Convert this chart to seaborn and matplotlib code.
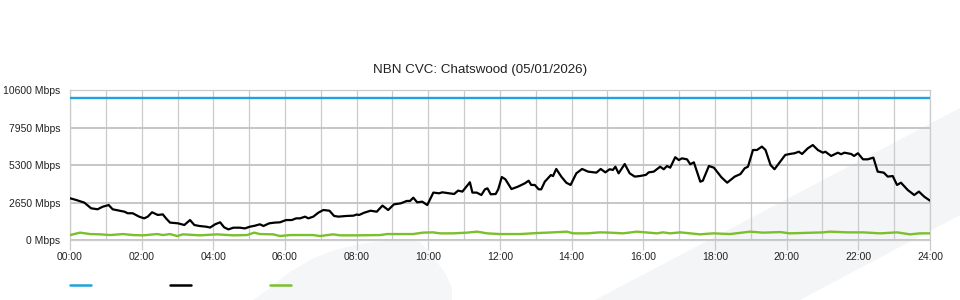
import numpy as np
import pandas as pd
import matplotlib
matplotlib.use("Agg")
import matplotlib.pyplot as plt
from matplotlib.lines import Line2D
from matplotlib.patches import Polygon
import seaborn as sns

# ---------------- data ----------------
title = "NBN CVC: Chatswood (05/01/2026)"

capacity_hours = [0, 24]
capacity_mbps = [10000, 10000]

download_hours = [
    0, 0.17, 0.40, 0.59, 0.77, 0.91, 1.08, 1.19, 1.38, 1.52,
    1.61, 1.75, 1.93, 2.07, 2.17, 2.29, 2.45, 2.59, 2.68, 2.79,
    3.01, 3.19, 3.35, 3.47, 3.61, 3.80, 3.91, 4.05, 4.19, 4.30,
    4.42, 4.56, 4.74, 4.88, 5.02, 5.16, 5.30, 5.40, 5.56, 5.72,
    5.86, 6.03, 6.19, 6.31, 6.42, 6.56, 6.65, 6.79, 6.93, 7.07,
    7.24, 7.37, 7.49, 7.72, 7.91, 8.00, 8.07, 8.21, 8.39, 8.56,
    8.72, 8.88, 9.04, 9.23, 9.40, 9.49, 9.58, 9.69, 9.83, 9.97,
    10.14, 10.30, 10.39, 10.58, 10.72, 10.83, 10.95, 11.16, 11.23, 11.35,
    11.48, 11.58, 11.65, 11.74, 11.88, 11.95, 12.05, 12.15, 12.32, 12.50,
    12.69, 12.80, 12.87, 12.97, 13.08, 13.15, 13.25, 13.42, 13.48, 13.57,
    13.71, 13.85, 13.97, 14.13, 14.29, 14.46, 14.69, 14.81, 14.94, 15.06,
    15.15, 15.22, 15.31, 15.48, 15.62, 15.76, 15.90, 16.07, 16.15, 16.29,
    16.47, 16.57, 16.66, 16.75, 16.89, 16.99, 17.08, 17.22, 17.31, 17.41,
    17.59, 17.66, 17.83, 17.97, 18.18, 18.34, 18.55, 18.71, 18.83, 18.92,
    19.06, 19.17, 19.31, 19.41, 19.55, 19.66, 19.87, 19.96, 20.09, 20.22,
    20.34, 20.43, 20.59, 20.73, 20.87, 21.01, 21.08, 21.24, 21.43, 21.52,
    21.61, 21.80, 21.88, 21.99, 22.13, 22.26, 22.42, 22.54, 22.71, 22.82,
    22.96, 23.08, 23.19, 23.38, 23.56, 23.69, 23.84, 24.00,
]
download_mbps = [
    2950, 2830, 2640, 2240, 2170, 2350, 2470, 2170, 2070, 2000,
    1890, 1890, 1650, 1530, 1650, 1960, 1770, 1810, 1530, 1230,
    1180, 1060, 1410, 1060, 990, 940, 880, 1110, 1250, 900,
    750, 870, 870, 820, 940, 1010, 1110, 990, 1180, 1230,
    1250, 1410, 1410, 1530, 1530, 1650, 1530, 1650, 1930, 2120,
    2070, 1700, 1650, 1700, 1720, 1800, 1770, 1930, 2070, 2000,
    2430, 2120, 2520, 2590, 2760, 2760, 2990, 2660, 2710, 2470,
    3350, 3300, 3370, 3300, 3250, 3490, 3420, 4080, 3350, 3350,
    3180, 3580, 3650, 3230, 3250, 3580, 4450, 4290, 3600, 3770,
    4000, 4190, 3890, 3890, 3580, 3580, 4120, 4590, 4520, 5020,
    4480, 4050, 3890, 4710, 5020, 4830, 4760, 5020, 4780, 5000,
    4950, 5180, 4710, 5370, 4710, 4480, 4520, 4600, 4780, 4830,
    5180, 5000, 5230, 5110, 5850, 5650, 5770, 5700, 5350, 5490,
    4120, 4190, 5230, 5110, 4430, 4050, 4480, 4660, 5070, 5180,
    6360, 6360, 6600, 6360, 5300, 5000, 5700, 6010, 6080, 6130,
    6240, 6080, 6480, 6710, 6360, 6170, 6240, 5940, 6170, 6060,
    6170, 6080, 5940, 6130, 5700, 5700, 5820, 4830, 4760, 4480,
    4520, 3890, 4050, 3530, 3180, 3420, 3060, 2780,
]

upload_hours = [
    0, 0.28, 0.56, 0.84, 1.12, 1.48, 1.76, 2.04, 2.43, 2.60,
    2.79, 2.99, 3.15, 3.63, 4.10, 4.55, 4.94, 5.14, 5.30, 5.67,
    5.86, 6.14, 6.78, 6.98, 7.34, 7.54, 8.01, 8.65, 8.85, 9.57,
    9.85, 10.13, 10.33, 10.69, 11.08, 11.36, 11.64, 12.00, 12.56, 13.03,
    13.48, 13.87, 14.04, 14.43, 14.79, 15.07, 15.43, 15.82, 16.38, 16.55,
    16.75, 17.03, 17.58, 17.95, 18.42, 18.98, 19.34, 19.82, 20.09, 21.02,
    21.21, 21.69, 22.13, 22.61, 23.08, 23.44, 23.72, 24.00,
]
upload_mbps = [
    350, 520, 420, 400, 350, 420, 350, 330, 420, 350,
    420, 280, 400, 330, 400, 330, 350, 520, 420, 400,
    280, 350, 350, 280, 400, 330, 330, 350, 420, 420,
    520, 540, 470, 470, 520, 590, 470, 420, 420, 490,
    540, 590, 470, 470, 540, 520, 470, 590, 470, 540,
    470, 540, 400, 470, 420, 590, 520, 560, 470, 540,
    590, 540, 540, 470, 540, 400, 470, 470,
]

y_ticks = [0, 2650, 5300, 7950, 10600]
y_labels = ["0 Mbps", "2650 Mbps", "5300 Mbps", "7950 Mbps", "10600 Mbps"]
x_ticks = list(range(0, 25, 2))
x_labels = [f"{h:02d}:00" for h in x_ticks]

# ---------------- style ----------------
sns.set_style("white")
plt.rcParams['font.family'] = ['Liberation Sans', 'DejaVu Sans']

BLUE = "#1ea3df"
BLACK = "#000000"
GREEN = "#7cbf2c"
GRID = "#cbcbcb"
TXT = "#222222"

W, H = 960, 300
fig = plt.figure(figsize=(9.6, 3.0), dpi=100)
fig.patch.set_facecolor("white")

def fx(px):
    return px / W

def fy(py):
    return 1 - py / H

# faint watermark shapes behind the chart
band = [(595, 300), (960, 108), (960, 215), (800, 300)]
fig.add_artist(Polygon([(fx(a), fy(b)) for a, b in band], closed=True,
                       transform=fig.transFigure, facecolor="#f4f5f7",
                       edgecolor="none", zorder=-5))
blob = [(253, 300), (270, 288), (290, 272), (312, 259), (335, 250), (360, 244),
        (385, 241), (410, 240), (420, 242), (432, 255), (445, 273), (452, 288),
        (452, 300)]
fig.add_artist(Polygon([(fx(a), fy(b)) for a, b in blob], closed=True,
                       transform=fig.transFigure, facecolor="#f5f6f8",
                       edgecolor="none", zorder=-5))

ax = fig.add_axes([fx(70), fy(240), fx(930) - fx(70), fy(90) - fy(240)])
ax.set_facecolor("none")

sns.lineplot(x=capacity_hours, y=capacity_mbps, color=BLUE, linewidth=1.7, ax=ax, zorder=4)
sns.lineplot(x=download_hours, y=download_mbps, color=BLACK, linewidth=1.6, ax=ax, zorder=5)
sns.lineplot(x=upload_hours, y=upload_mbps, color=GREEN, linewidth=1.7, ax=ax, zorder=4)

ax.set_xlim(0, 24)
ax.set_ylim(0, 10600)
ax.set_xticks(x_ticks)
ax.set_xticklabels(x_labels)
ax.set_xticks(range(0, 25), minor=True)
ax.set_yticks(y_ticks)
ax.set_yticklabels(y_labels)
ax.set_xlabel("")
ax.set_ylabel("")

ax.grid(axis="x", which="both", color=GRID, linewidth=0.9, zorder=0)
ax.grid(axis="y", which="major", color="#c2c2c2", linewidth=1.3, zorder=0)
ax.set_axisbelow(True)

ax.tick_params(axis="x", which="major", length=7, width=0.9, color=GRID,
               labelsize=7.5, labelcolor=TXT, pad=2, direction="out", bottom=True)
ax.tick_params(axis="x", which="minor", length=0)
ax.tick_params(axis="y", length=0, labelsize=7.5, labelcolor=TXT, pad=7)

for s in ax.spines.values():
    s.set_color(GRID)
    s.set_linewidth(0.9)

if ax.get_legend() is not None:
    ax.get_legend().remove()

fig.text(0.5, fy(70), title, ha="center", va="center", fontsize=9.6, color=TXT)

# legend swatches (no labels in the reference)
for x0, c in [(70, BLUE), (170, BLACK), (270, GREEN)]:
    fig.add_artist(Line2D([fx(x0), fx(x0 + 21)], [fy(285), fy(285)],
                          transform=fig.transFigure, color=c, linewidth=1.8))

fig.savefig("out.png", dpi=100)
